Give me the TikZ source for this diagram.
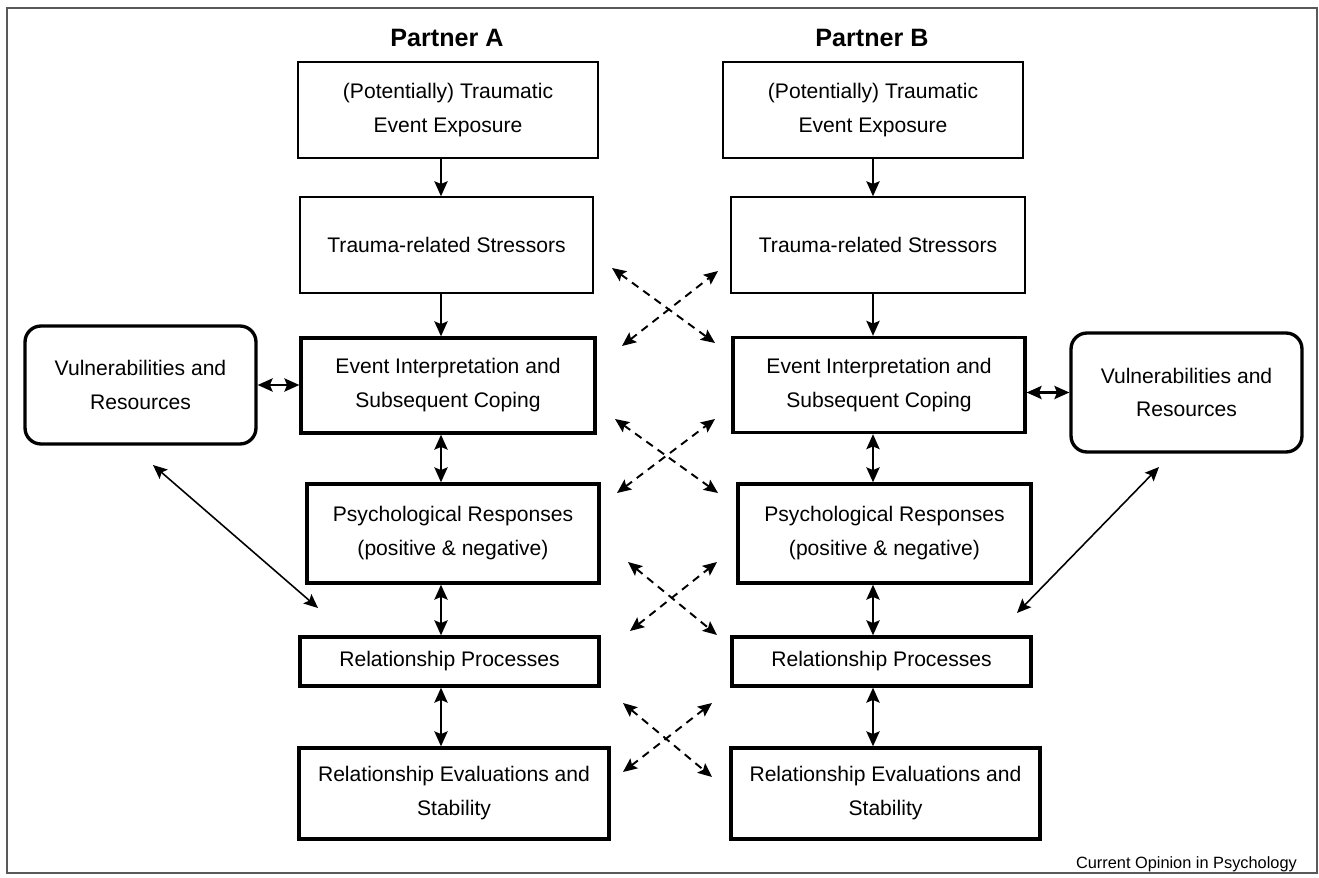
\documentclass[tikz,border=0pt]{standalone}
\usepackage{fontspec}
\setmainfont{Liberation Sans}
\usetikzlibrary{arrows.meta}

\begin{document}
\begin{tikzpicture}[
      x=0.02cm, y=-0.02cm,
      box/.style={draw,line width=0.85pt,align=center,inner sep=0pt,font=\fontsize{12}{19.3}\selectfont},
      boldbox/.style={box,line width=1.9pt},
      roundbox/.style={boldbox,rounded corners=0.32cm},
      title/.style={font=\fontsize{14.3}{17}\selectfont\bfseries},
      frame/.style={draw=black!65,line width=0.6pt},
      trans/.style={line width=1.2pt,-{Stealth[length=8.5pt,width=7.5pt,inset=1.5pt]}},
      trans2/.style={line width=1.2pt,{Stealth[length=8.5pt,width=7.5pt,inset=1.5pt]}-{Stealth[length=8.5pt,width=7.5pt,inset=1.5pt]}},
      cross/.style={line width=1.1pt,{Stealth[length=8pt,width=7pt,inset=1.5pt]}-{Stealth[length=8pt,width=7pt,inset=1.5pt]},dash pattern=on 4.5pt off 3.4pt},
      link/.style={line width=0.9pt,{Stealth[length=8pt,width=7pt,inset=1.5pt]}-{Stealth[length=8pt,width=7pt,inset=1.5pt]}}
    ]
    % Draw the frame.
    \useasboundingbox (0,0) rectangle (1319,878);
    \draw[frame] (7,8) rectangle (1317,873);
    % Draw the titles.
    \node[title] (titleA) at (447,38) {Partner A};
    \node[title] (titleB) at (872,38) {Partner B};
    % Draw the boxes of partner A.
    \node[box,minimum width=6cm,minimum height=1.92cm] (A1) at (448,110) {(Potentially) Traumatic\\Event Exposure};
    \node[box,minimum width=5.86cm,minimum height=1.92cm] (A2) at (446.5,245) {Trauma-related Stressors};
    \node[boldbox,minimum width=5.88cm,minimum height=1.9cm] (A3) at (448,385.5) {Event Interpretation and\\Subsequent Coping};
    \node[boldbox,minimum width=5.84cm,minimum height=1.98cm] (A4) at (453,533.5) {Psychological Responses\\(positive \& negative)};
    \node[boldbox,minimum width=5.98cm,minimum height=0.98cm] (A5) at (449.5,661.5) {Relationship Processes};
    \node[boldbox,minimum width=6.2cm,minimum height=1.82cm] (A6) at (454,793.5) {Relationship Evaluations and\\Stability};
    \node[roundbox,minimum width=4.62cm,minimum height=2.36cm] (VA) at (140.5,385) {Vulnerabilities and\\Resources};
    % Draw the boxes of partner B.
    \node[box,minimum width=6cm,minimum height=1.92cm] (B1) at (873,110) {(Potentially) Traumatic\\Event Exposure};
    \node[box,minimum width=5.88cm,minimum height=1.92cm] (B2) at (878,245) {Trauma-related Stressors};
    \node[boldbox,minimum width=5.84cm,minimum height=1.9cm] (B3) at (879,385) {Event Interpretation and\\Subsequent Coping};
    \node[boldbox,minimum width=5.86cm,minimum height=1.98cm] (B4) at (884.5,533.5) {Psychological Responses\\(positive \& negative)};
    \node[boldbox,minimum width=5.98cm,minimum height=0.98cm] (B5) at (881.5,661.5) {Relationship Processes};
    \node[boldbox,minimum width=6.18cm,minimum height=1.82cm] (B6) at (885.5,793.5) {Relationship Evaluations and\\Stability};
    \node[roundbox,minimum width=4.62cm,minimum height=2.38cm] (VB) at (1186.5,392.5) {Vulnerabilities and\\Resources};
    % Draw the vertical transitions.
    \coordinate (colA) at (441,0);
    \coordinate (colB) at (873,0);
    \draw[trans] (A1.south -| colA) -- (A2.north -| colA);
    \draw[trans] (A2.south -| colA) -- (A3.north -| colA);
    \draw[trans2] (A3.south -| colA) -- (A4.north -| colA);
    \draw[trans2] (A4.south -| colA) -- (A5.north -| colA);
    \draw[trans2] (A5.south -| colA) -- (A6.north -| colA);
    \draw[trans] (B1.south -| colB) -- (B2.north -| colB);
    \draw[trans] (B2.south -| colB) -- (B3.north -| colB);
    \draw[trans2] (B3.south -| colB) -- (B4.north -| colB);
    \draw[trans2] (B4.south -| colB) -- (B5.north -| colB);
    \draw[trans2] (B5.south -| colB) -- (B6.north -| colB);
    % Draw the links to vulnerabilities and resources.
    \draw[trans2] (VA.east) -- (VA.east -| A3.west);
    \draw[trans2] (B3.east |- VB.west) -- (VB.west);
    \coordinate (vaTop) at (153,465);
    \coordinate (vaEnd) at (318,608);
    \coordinate (vbTop) at (1159,467);
    \coordinate (vbEnd) at (1017,613);
    \draw[link] (vaTop) -- (vaEnd);
    \draw[link] (vbTop) -- (vbEnd);
    % Draw the crossed transitions between partners.
    \coordinate (c1nw) at (612,268); \coordinate (c1se) at (715,343);
    \coordinate (c1sw) at (622,346); \coordinate (c1ne) at (718,271);
    \coordinate (c2nw) at (615,419); \coordinate (c2se) at (718,493);
    \coordinate (c2sw) at (617,493); \coordinate (c2ne) at (715,419);
    \coordinate (c3nw) at (628,562); \coordinate (c3se) at (717,635);
    \coordinate (c3sw) at (630,631); \coordinate (c3ne) at (717,562);
    \coordinate (c4nw) at (623,703); \coordinate (c4se) at (712,777);
    \coordinate (c4sw) at (623,772); \coordinate (c4ne) at (712,703);
    \draw[cross] (c1nw) -- (c1se);
    \draw[cross] (c1sw) -- (c1ne);
    \draw[cross] (c2nw) -- (c2se);
    \draw[cross] (c2sw) -- (c2ne);
    \draw[cross] (c3nw) -- (c3se);
    \draw[cross] (c3sw) -- (c3ne);
    \draw[cross] (c4nw) -- (c4se);
    \draw[cross] (c4sw) -- (c4ne);
    % Draw the source.
    \node[anchor=base east,font=\fontsize{9.3}{11}\selectfont] (source) at (1303,868) {Current Opinion in Psychology};
    \end{tikzpicture}
\end{document}
